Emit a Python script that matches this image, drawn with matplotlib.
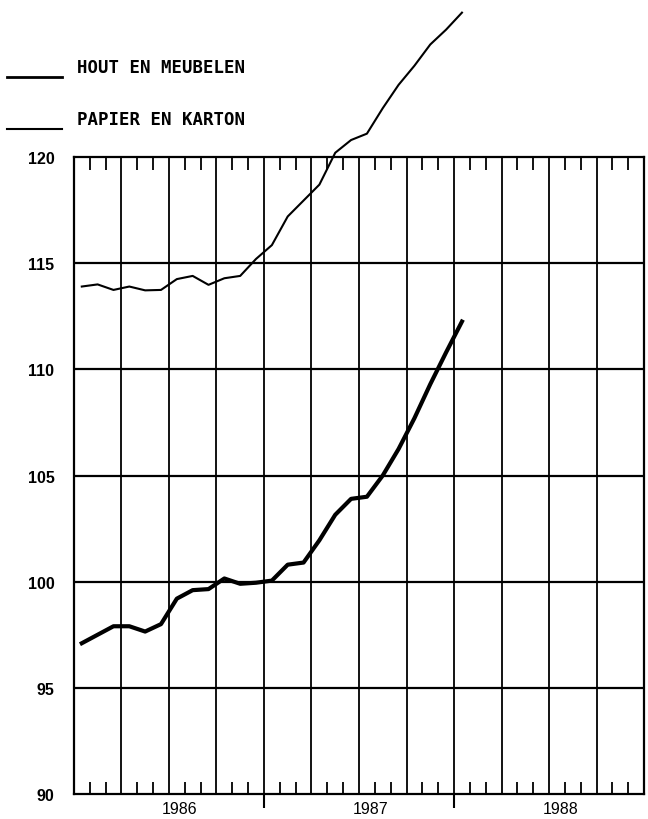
import numpy as np
import matplotlib.pyplot as plt
from matplotlib.lines import Line2D

# Indices mensuels, janvier 1986 - janvier 1988 (milieu du mois)
mois = np.arange(25) + 0.5
hout_meubelen = [97.1, 97.5, 97.9, 97.9, 97.65, 98.0, 99.2, 99.6, 99.65, 100.15,
                 99.9, 99.95, 100.05, 100.8, 100.9, 101.95, 103.15, 103.9, 104.0,
                 105.0, 106.25, 107.7, 109.3, 110.8, 112.25]
papier_karton = [113.9, 114.0, 113.74, 113.9, 113.72, 113.74, 114.25, 114.4, 113.98,
                 114.29, 114.4, 115.2, 115.85, 117.2, 117.95, 118.7, 120.2, 120.8,
                 121.1, 122.3, 123.4, 124.3, 125.3, 126.0, 126.8]
annees = ['1986', '1987', '1988']
y_ticks = [90, 95, 100, 105, 110, 115, 120]
noms = ['HOUT EN MEUBELEN', 'PAPIER EN KARTON']

fig = plt.figure(figsize=(6.48, 8.20), dpi=100)
ax = fig.add_axes([0.114, 0.0305, 0.88, 0.7768])

ax.set_xlim(0, 36)
ax.set_ylim(90, 120)

# grille
for v in y_ticks[1:-1]:
    ax.axhline(v, color='black', lw=1.6, zorder=1)
for q in range(3, 36, 3):
    ax.axvline(q, color='black', lw=1.3, zorder=1)

# courbes (la courbe papier depasse le cadre en haut)
ax.plot(mois, hout_meubelen, color='black', lw=3.0, clip_on=False, zorder=3)
ax.plot(mois, papier_karton, color='black', lw=1.5, clip_on=False, zorder=3)

for s in ax.spines.values():
    s.set_linewidth(1.6)

ax.set_yticks(y_ticks)
ax.set_yticklabels([str(v) for v in y_ticks], fontweight='bold',
                   family='Liberation Sans')
ax.tick_params(axis='y', length=0, pad=14, labelsize=11.5)

# traits des annees sous l'axe, traits mensuels dans le cadre
ax.set_xticks([12, 24])
ax.set_xticklabels([])
ax.tick_params(axis='x', which='major', direction='out', length=10, width=1.5,
               bottom=True, top=False)
ax.set_xticks([m for m in range(1, 36) if m % 3], minor=True)
ax.tick_params(axis='x', which='minor', direction='in', length=9, width=1.3,
               bottom=True, top=True)

for i, a in enumerate(annees):
    ax.text(12 * i + 6.7, -0.011, a, transform=ax.get_xaxis_transform(),
            ha='center', va='top', fontsize=11.5, family='Liberation Sans')

# legende
leg_y = [(0.9049, 0.917), (0.8415, 0.8537)]
leg_lw = [2.0, 1.5]
for (yl, yt), nom, lw in zip(leg_y, noms, leg_lw):
    fig.add_artist(Line2D([0.011, 0.096], [yl, yl], color='black', lw=lw))
    fig.text(0.119, yt, nom, fontsize=12.5, fontweight='bold',
             family='DejaVu Sans Mono', va='center')

plt.savefig('out.png', dpi=100)
plt.close()
